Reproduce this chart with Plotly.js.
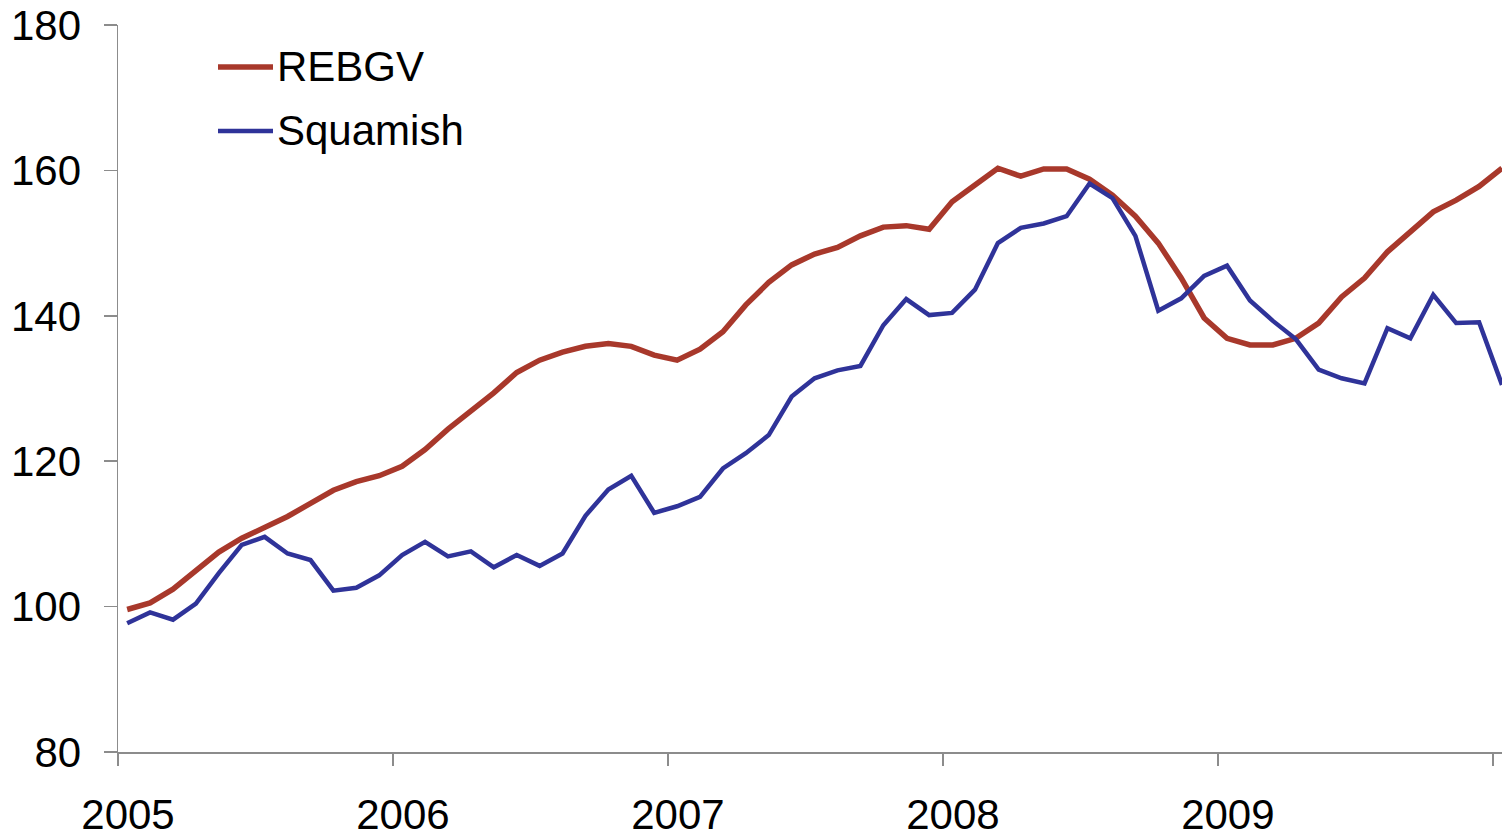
<!DOCTYPE html>
<html>
<head>
<meta charset="utf-8">
<script src="https://cdn.plot.ly/plotly-3.0.1.min.js"></script>
<style>
  html, body { margin: 0; padding: 0; background: #ffffff; }
  #chart { width: 1502px; height: 833px; }
</style>
</head>
<body>
<div id="chart"></div>
<script>
// Monthly index values, Jan 2005 onward
const yearLabels = ['2005', '2006', '2007', '2008', '2009'];
const seriesNames = ['REBGV', 'Squamish'];

const rebgv = [
  99.6, 100.5, 102.4, 105.0, 107.5, 109.4, 110.8, 112.4, 114.2, 116.0, 117.2, 118.0,
  119.3, 121.6, 124.4, 126.9, 129.4, 132.2, 133.9, 135.0, 135.8, 136.2, 135.8, 134.6,
  133.9, 135.4, 137.8, 141.5, 144.6, 147.0, 148.5, 149.4, 151.0, 152.2, 152.4, 151.9,
  155.7, 158.0, 160.3, 159.2, 160.2, 160.2, 158.8, 156.6, 153.7, 150.0, 145.2, 139.7,
  136.9, 136.0, 136.0, 136.9, 139.0, 142.6, 145.2, 148.8, 151.6, 154.3, 155.9, 157.8,
  160.3
];

const squamish = [
  97.7, 99.2, 98.2, 100.4, 104.6, 108.5, 109.6, 107.3, 106.4, 102.2, 102.6, 104.3,
  107.1, 108.9, 106.9, 107.6, 105.4, 107.1, 105.6, 107.3, 112.5, 116.1, 118.0, 112.9,
  113.8, 115.1, 119.0, 121.1, 123.6, 128.9, 131.4, 132.5, 133.1, 138.7, 142.3, 140.1,
  140.4, 143.6, 150.0, 152.1, 152.7, 153.7, 158.2, 156.2, 151.0, 140.7, 142.4, 145.5,
  146.9, 142.1, 139.3, 136.8, 132.6, 131.4, 130.7, 138.3, 136.9, 142.9, 139.0, 139.1,
  130.5
];

const colors = ['#A8382B', '#2F3399'];

// x position: months since Jan 2005 (points sit inside their month)
const monthPos = rebgv.map((_, i) => i + 0.4);
const yearTicks = [0, 12, 24, 36, 48, 60];
const yearText = yearLabels.concat(['']);

const traces = [
  { x: monthPos, y: rebgv, name: seriesNames[0], type: 'scatter', mode: 'lines',
    line: { color: colors[0], width: 5.5 }, hoverinfo: 'y+name' },
  { x: monthPos, y: squamish, name: seriesNames[1], type: 'scatter', mode: 'lines',
    line: { color: colors[1], width: 4.5 }, hoverinfo: 'y+name' }
];

const FONT = 'Liberation Sans, Arial, sans-serif';
const FS = 42;
const axisColor = '#8c8c8c';

const layout = {
  width: 1502, height: 833,
  margin: { l: 118, r: 0, t: 25, b: 81, pad: 0 },
  paper_bgcolor: '#ffffff', plot_bgcolor: '#ffffff',
  showlegend: false,
  font: { family: FONT, size: FS, color: '#000000' },
  xaxis: {
    range: [0, 60.4], tickmode: 'array', tickvals: yearTicks, ticktext: yearText,
    showgrid: false, zeroline: false, showline: true, linecolor: axisColor, linewidth: 1.5,
    ticks: 'outside', ticklen: 12, tickwidth: 1.5, tickcolor: axisColor,
    ticklabelshift: 10, ticklabelstandoff: 13,
    tickfont: { family: FONT, size: FS, color: '#000000' }
  },
  yaxis: {
    range: [80, 180], tickmode: 'array', tickvals: [80, 100, 120, 140, 160, 180],
    showgrid: false, zeroline: false, showline: true, linecolor: axisColor, linewidth: 1.5,
    ticks: 'outside', ticklen: 13, tickwidth: 1.5, tickcolor: axisColor,
    ticklabelstandoff: 14,
    tickfont: { family: FONT, size: FS, color: '#000000' }
  },
  shapes: [
    { type: 'line', xref: 'paper', yref: 'paper', x0: (218 - 118) / 1384, x1: (273 - 118) / 1384,
      y0: (752 - 67) / 727, y1: (752 - 67) / 727, line: { color: colors[0], width: 5.5 } },
    { type: 'line', xref: 'paper', yref: 'paper', x0: (218 - 118) / 1384, x1: (273 - 118) / 1384,
      y0: (752 - 131) / 727, y1: (752 - 131) / 727, line: { color: colors[1], width: 4.5 } }
  ],
  annotations: [
    { xref: 'paper', yref: 'paper', x: (275 - 118) / 1384, y: (752 - 67) / 727,
      xanchor: 'left', yanchor: 'middle', showarrow: false, text: seriesNames[0],
      font: { family: FONT, size: FS, color: '#000000' } },
    { xref: 'paper', yref: 'paper', x: (275 - 118) / 1384, y: (752 - 131) / 727,
      xanchor: 'left', yanchor: 'middle', showarrow: false, text: seriesNames[1],
      font: { family: FONT, size: FS, color: '#000000' } }
  ]
};

Plotly.newPlot('chart', traces, layout, { displayModeBar: false, staticPlot: true });
</script>
</body>
</html>
